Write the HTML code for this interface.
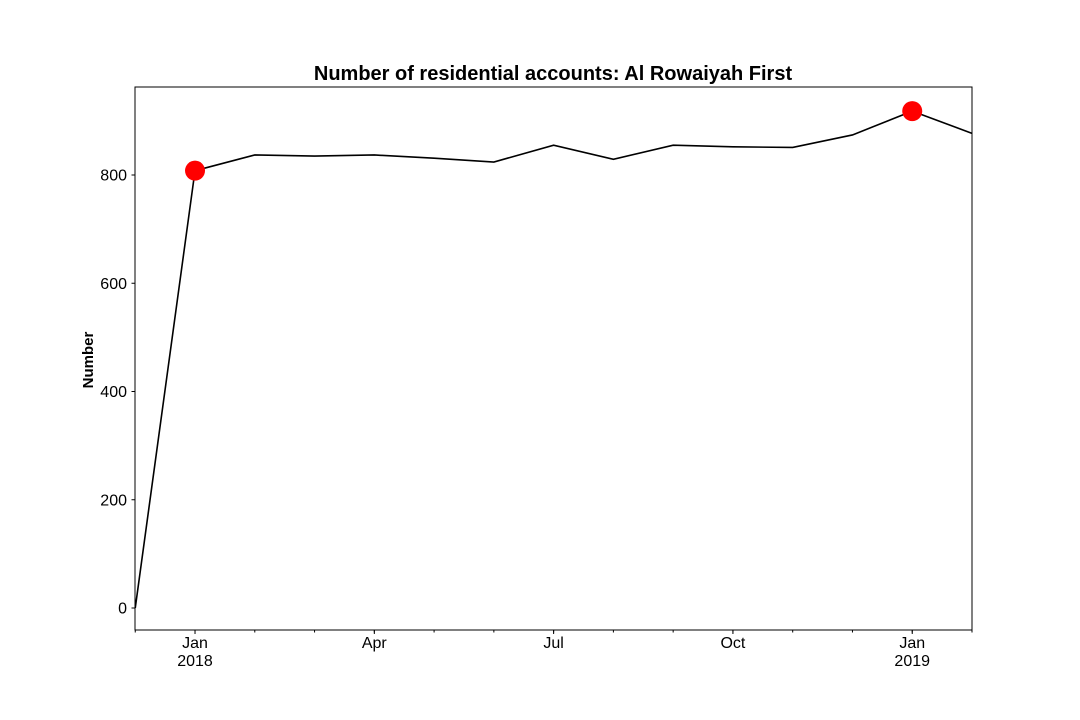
<!DOCTYPE html>
<html><head><meta charset="utf-8"><style>
body{margin:0;background:#fff}
svg{display:block;font-family:"Liberation Sans",sans-serif}
</style></head><body>
<svg id="chart" width="1080" height="720">
<rect width="1080" height="720" fill="#fff"/>
<text x="553" y="80" text-anchor="middle" font-size="20" font-weight="bold">Number of residential accounts: Al Rowaiyah First</text>
<text transform="translate(93,360) rotate(-90)" text-anchor="middle" font-size="15" font-weight="bold">Number</text>
<g id="axes"></g>
<g id="series"></g>
<rect x="135" y="87" width="837" height="543" fill="none" stroke="#000" stroke-width="1"/>
</svg>
<script>
const months = ["2017-12","2018-01","2018-02","2018-03","2018-04","2018-05","2018-06","2018-07","2018-08","2018-09","2018-10","2018-11","2018-12","2019-01","2019-02"];
const values = [0,808,837,835,837,831,824,855,829,855,852,851,874,918,877];
const highlighted = ["2018-01","2019-01"];
const yTicks = [0,200,400,600,800];
const xMajor = [{i:1,l1:"Jan",l2:"2018"},{i:4,l1:"Apr",l2:""},{i:7,l1:"Jul",l2:""},{i:10,l1:"Oct",l2:""},{i:13,l1:"Jan",l2:"2019"}];

const NS="http://www.w3.org/2000/svg";
const x0=135.25, dx=(972-135.25)/(months.length-1);
const xS=i=>x0+i*dx;
const yS=v=>608-v*0.54125;
function mk(tag,attrs,parent){const e=document.createElementNS(NS,tag);for(const k in attrs)e.setAttribute(k,attrs[k]);parent.appendChild(e);return e;}
const axes=document.getElementById('axes'), ser=document.getElementById('series');
yTicks.forEach(t=>{
  const y=yS(t);
  const tk=mk('line',{x1:131.5,x2:135,y1:y,y2:y,stroke:'#000'},axes);
  
  
  const tx=mk('text',{x:127,y:y+5.5,'text-anchor':'end','font-size':16},axes);
  tx.textContent=t;
  
  
});
months.forEach((m,i)=>{
  const x=xS(i);
  const tk=mk('line',{x1:x,x2:x,y1:630,y2:632.5,stroke:'#000'},axes);
  
  
});
xMajor.forEach(t=>{
  const x=xS(t.i);
  const tk=mk('line',{x1:x,x2:x,y1:630,y2:634,stroke:'#000'},axes);
  
  
  const a=mk('text',{x:x,y:648,'text-anchor':'middle','font-size':16},axes);
  a.textContent=t.l1;
  
  
  if(t.l2){const b=mk('text',{x:x,y:666,'text-anchor':'middle','font-size':16},axes);
  b.textContent=t.l2;
  
  }
});
const pl=mk('polyline',{points:values.map((v,i)=>xS(i)+','+yS(v)).join(' '),fill:'none',stroke:'#000','stroke-width':1.6},ser);


months.forEach((m,i)=>{
  if(highlighted.includes(m)){
    const c=mk('circle',{cx:xS(i),cy:yS(values[i]),r:10,fill:'#ff0000'},ser);
    
    
  }
});
</script>
</body></html>
